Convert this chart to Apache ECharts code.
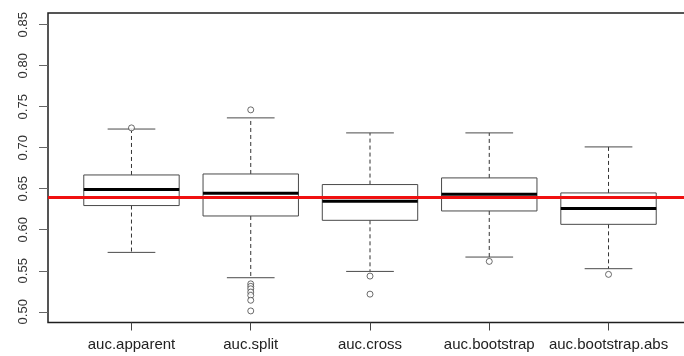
<!DOCTYPE html>
<html>
<head>
<meta charset="utf-8">
<script src="https://cdn.jsdelivr.net/npm/echarts@6/dist/echarts.min.js"></script>
<style>
  html, body { margin: 0; padding: 0; background: #fff; }
  #chart { width: 684px; height: 356px; }
</style>
</head>
<body>
<div id="chart"></div>
<script>
// AUC estimates per validation method
const categories = ['auc.apparent', 'auc.split', 'auc.cross', 'auc.bootstrap', 'auc.bootstrap.abs'];
const whiskerLow  = [0.5724, 0.5415, 0.5492, 0.5667, 0.5525];
const quartile1   = [0.6295, 0.6168, 0.6115, 0.6229, 0.6066];
const medians     = [0.6490, 0.6445, 0.6347, 0.6433, 0.6258];
const quartile3   = [0.6668, 0.6680, 0.6551, 0.6632, 0.6449];
const whiskerHigh = [0.7228, 0.7364, 0.7181, 0.7181, 0.7010];
const outliers = [
  [0.7242],
  [0.7462, 0.5340, 0.5310, 0.5280, 0.5240, 0.5200, 0.5140, 0.5010],
  [0.5435, 0.5215],
  [0.5614],
  [0.5456]
];
const referenceAuc = 0.6408;
const yTicks = [0.50, 0.55, 0.60, 0.65, 0.70, 0.75, 0.80, 0.85];

const boxData = categories.map((c, i) =>
  [i + 1, whiskerLow[i], quartile1[i], medians[i], quartile3[i], whiskerHigh[i]]);
const outlierData = [];
outliers.forEach((vals, i) => vals.forEach(v => outlierData.push([i + 1, v])));

const FONT = '"Liberation Sans", Arial, sans-serif';

function renderBox(params, api) {
  const x = api.value(0);
  const lo = api.coord([x, api.value(1)]);
  const q1 = api.coord([x, api.value(2)]);
  const md = api.coord([x, api.value(3)]);
  const q3 = api.coord([x, api.value(4)]);
  const hi = api.coord([x, api.value(5)]);
  const bw = api.size([0.8, 0])[0];
  const cw = bw / 2;
  const cx = lo[0];
  const thin = { stroke: '#4a4a4a', lineWidth: 1, fill: null };
  const dashed = { stroke: '#333', lineWidth: 1, lineDash: [4, 3], fill: null };
  return {
    type: 'group',
    children: [
      { type: 'line', shape: { x1: cx, y1: q3[1], x2: cx, y2: hi[1] }, style: dashed },
      { type: 'line', shape: { x1: cx, y1: q1[1], x2: cx, y2: lo[1] }, style: dashed },
      { type: 'line', shape: { x1: cx - cw / 2, y1: hi[1], x2: cx + cw / 2, y2: hi[1] }, style: thin },
      { type: 'line', shape: { x1: cx - cw / 2, y1: lo[1], x2: cx + cw / 2, y2: lo[1] }, style: thin },
      { type: 'rect', shape: { x: cx - bw / 2, y: q3[1], width: bw, height: q1[1] - q3[1] },
        style: { stroke: '#4a4a4a', lineWidth: 1, fill: 'rgba(255,255,255,0)' } },
      { type: 'line', shape: { x1: cx - bw / 2, y1: md[1], x2: cx + bw / 2, y2: md[1] },
        style: { stroke: '#000', lineWidth: 3 } }
    ]
  };
}

const chart = echarts.init(document.getElementById('chart'), null, { renderer: 'canvas' });
chart.setOption({
  animation: false,
  backgroundColor: '#fff',
  grid: {
    left: 48, top: 13, right: -8, bottom: 33.5,
    show: true, borderColor: '#1e1e1e', borderWidth: 1.5,
    containLabel: false, outerBoundsMode: 'none'
  },
  xAxis: {
    type: 'value',
    min: 0.3, max: 5.7,
    splitLine: { show: false },
    axisLine: { show: false },
    axisTick: { show: true, length: 8, inside: false, customValues: [1, 2, 3, 4, 5],
      lineStyle: { color: '#444', width: 1 } },
    axisLabel: {
      customValues: [1, 2, 3, 4, 5],
      formatter: v => categories[Math.round(v) - 1] || '',
      margin: 15, fontSize: 15, color: '#222', fontFamily: FONT
    }
  },
  yAxis: {
    type: 'value',
    min: 0.4869, max: 0.8643,
    splitLine: { show: false },
    axisLine: { show: false },
    axisTick: { show: true, length: 9, inside: false, customValues: yTicks,
      lineStyle: { color: '#666', width: 1 } },
    axisLabel: {
      customValues: yTicks,
      formatter: v => v.toFixed(2),
      rotate: 90, margin: 18, fontSize: 13, color: '#333', fontFamily: FONT
    }
  },
  series: [
    {
      type: 'custom',
      renderItem: renderBox,
      data: boxData,
      encode: { x: 0, y: [1, 2, 3, 4, 5] },
      z: 2
    },
    {
      type: 'scatter',
      data: outlierData,
      symbol: 'circle',
      symbolSize: 6,
      itemStyle: { color: '#fff', borderColor: '#333', borderWidth: 0.9 },
      z: 3,
      markLine: {
        silent: true,
        symbol: 'none',
        label: { show: false },
        lineStyle: { color: '#f01010', width: 3, type: 'solid' },
        data: [{ yAxis: referenceAuc }]
      }
    }
  ]
});
</script>
</body>
</html>
